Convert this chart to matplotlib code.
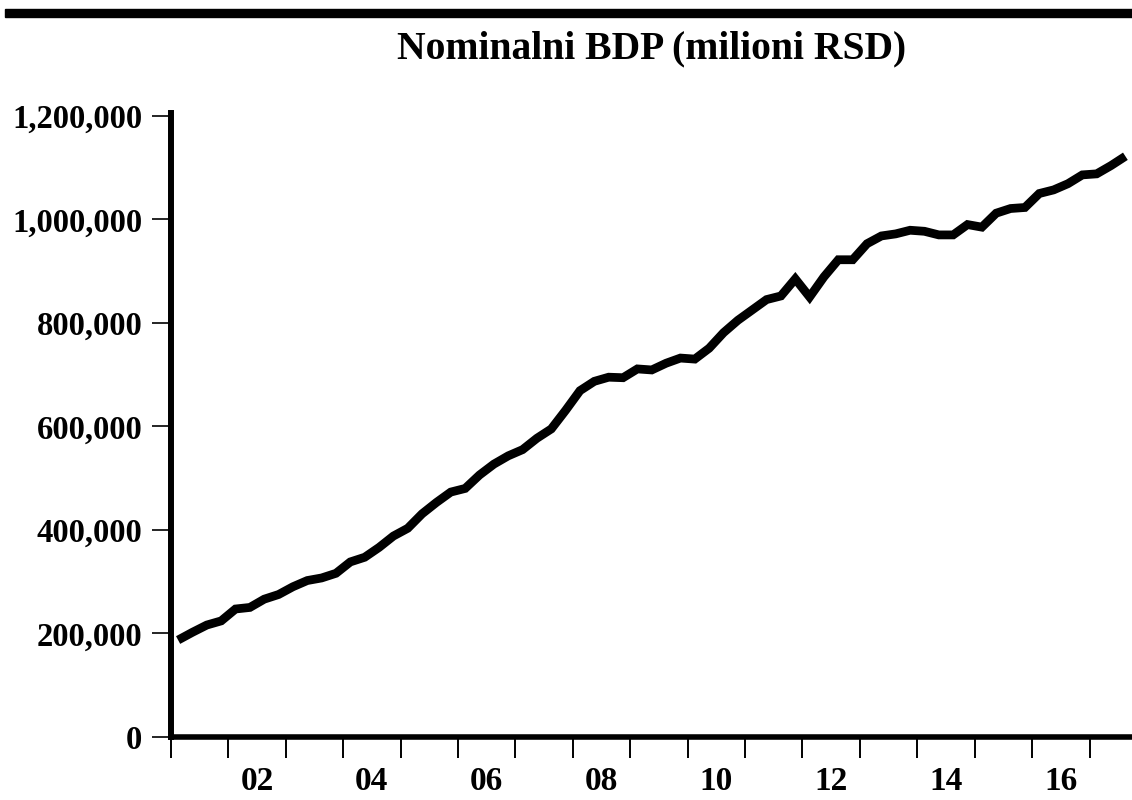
import matplotlib.pyplot as plt
import numpy as np
from matplotlib.patches import Rectangle

# kvartalni nominalni BDP, 2001Q1 - 2017Q3 (milioni RSD)
start_year = 2001
gdp = [187000, 202000, 216000, 224000, 247000, 250000, 266000, 275000,
       290000, 302000, 307000, 316000, 338000, 347000, 366000, 388000,
       403000, 431000, 453000, 473000, 480000, 506000, 527000, 543000,
       555000, 577000, 595000, 631000, 669000, 687000, 695000, 694000,
       711000, 709000, 722000, 732000, 730000, 751000, 781000, 805000,
       825000, 845000, 852000, 885000, 850000, 889000, 922000, 922000,
       953000, 968000, 972000, 979000, 977000, 970000, 970000, 990000,
       985000, 1012000, 1021000, 1023000, 1050000, 1057000, 1069000, 1086000,
       1088000, 1104000, 1122000]
year_ticks = list(range(2001, 2018))
label_years = [2002, 2004, 2006, 2008, 2010, 2012, 2014, 2016]
year_labels = ['02', '04', '06', '08', '10', '12', '14', '16']
y_ticks = [0, 200000, 400000, 600000, 800000, 1000000, 1200000]

plt.rcParams['font.family'] = ['Liberation Serif', 'DejaVu Serif']
plt.rcParams['font.weight'] = 'bold'

x = start_year + (np.arange(len(gdp)) + 0.5) / 4  # sredina kvartala

fig = plt.figure(figsize=(11.32, 8), dpi=100)
ax = fig.add_axes([0.151, 0.079, 0.849, 0.780])
ax.plot(x, gdp, color='black', linewidth=6.3, solid_joinstyle='miter',
        solid_capstyle='butt')

ax.set_xlim(2001, 2017.74)
ax.set_ylim(0, 1206000)

ax.spines['top'].set_visible(False)
ax.spines['right'].set_visible(False)
ax.spines['left'].set_linewidth(4.3)
ax.spines['bottom'].set_linewidth(4.0)

ax.set_yticks(y_ticks)
ax.set_yticklabels([f'{v:,}' for v in y_ticks])
ax.tick_params(axis='y', direction='out', length=13.5, width=1.2, pad=7, labelsize=23.5)

ax.set_xticks(year_ticks)
ax.set_xticklabels([''] * len(year_ticks))
ax.set_xticks([yr + 0.5 for yr in label_years], minor=True)
ax.set_xticklabels(year_labels, minor=True)
ax.tick_params(axis='x', which='major', direction='out', length=15, width=1.4)
ax.tick_params(axis='x', which='minor', length=0, pad=21, labelsize=24)

ax.set_title('Nominalni BDP (milioni RSD)', fontsize=28.5, fontweight='bold', pad=39)

# debela crna linija na vrhu
fig.add_artist(Rectangle((5 / 1132, 1 - 17 / 800), 1, 8 / 800,
                         transform=fig.transFigure, color='black'))

plt.savefig('out.png', dpi=100)
